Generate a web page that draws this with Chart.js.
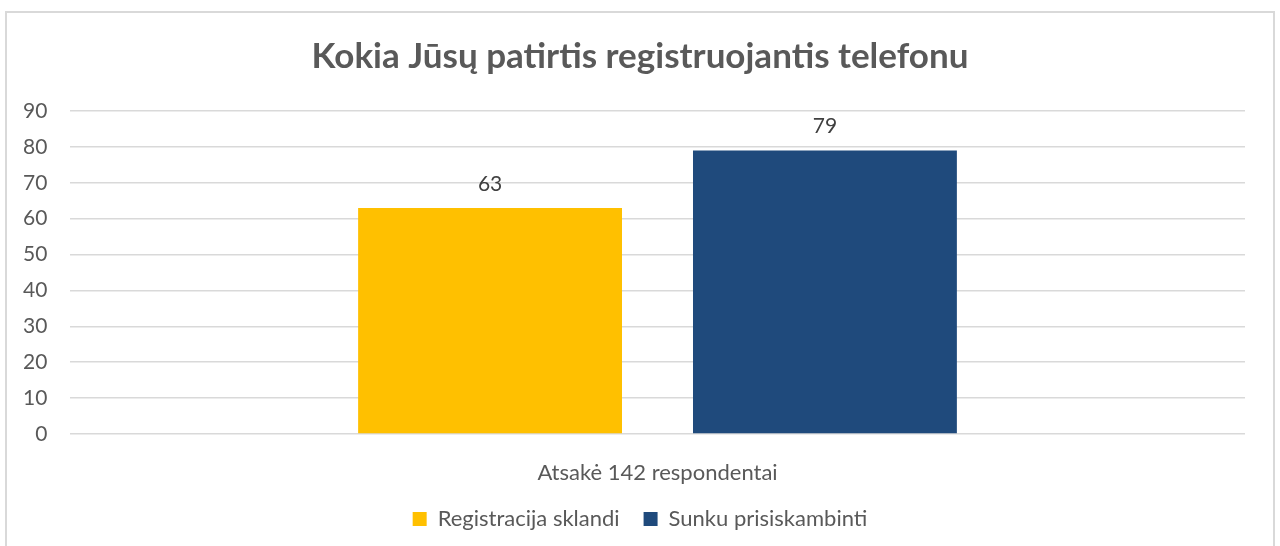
<!DOCTYPE html>
<html lang="lt">
<head>
    <meta charset="UTF-8">
    <title>Kokia Jūsų patirtis registruojantis telefonu</title>
    <script src="https://cdn.jsdelivr.net/npm/chart.js"></script>
    <style>
        html, body {
            margin: 0;
            padding: 0;
            background: #ffffff;
            overflow: hidden;
        }
        #frame {
            position: absolute;
            left: 5px;
            top: 11px;
            width: 1266px;
            height: 600px;
            border: 2px solid #d9d9d9;
        }
        #wrap {
            position: absolute;
            left: 0;
            top: 0;
            width: 1280px;
            height: 540px;
        }
    </style>
</head>
<body>
    <div id="frame"></div>
    <div id="wrap"><canvas id="chart"></canvas></div>

    <script>
        const categories = ['Atsakė 142 respondentai'];
        const seriesNames = ['Registracija sklandi', 'Sunku prisiskambinti'];
        const seriesValues = [[63], [79]];
        const seriesColors = ['#FFC000', '#1F4A7C'];

        const FONT = 'Lato, Calibri, Carlito, sans-serif';
        const GREY = '#595959';

        // value labels above each bar
        const valueLabels = {
            id: 'valueLabels',
            afterDatasetsDraw(chart) {
                const ctx = chart.ctx;
                ctx.save();
                ctx.font = '21px ' + FONT;
                ctx.fillStyle = '#404040';
                ctx.textAlign = 'center';
                ctx.textBaseline = 'middle';
                chart.data.datasets.forEach((ds, i) => {
                    chart.getDatasetMeta(i).data.forEach((bar, j) => {
                        ctx.fillText(ds.data[j], bar.x, bar.y - 24);
                    });
                });
                ctx.restore();
            }
        };

        new Chart(document.getElementById('chart'), {
            type: 'bar',
            data: {
                labels: categories,
                datasets: seriesNames.map((name, i) => ({
                    label: name,
                    data: seriesValues[i],
                    backgroundColor: seriesColors[i],
                    categoryPercentage: 0.57,
                    barPercentage: 0.788
                }))
            },
            options: {
                responsive: true,
                maintainAspectRatio: false,
                animation: false,
                // equal side padding keeps title + legend centred on the page
                layout: { padding: { left: 35, right: 35, top: 0, bottom: 0 } },
                plugins: {
                    title: {
                        display: true,
                        text: 'Kokia Jūsų patirtis registruojantis telefonu',
                        color: GREY,
                        font: { family: FONT, size: 35, weight: 'bold' },
                        padding: { top: 36, bottom: 33 }
                    },
                    legend: {
                        position: 'bottom',
                        labels: {
                            boxWidth: 14,
                            boxHeight: 14,
                            padding: 24,
                            color: GREY,
                            font: { family: FONT, size: 22 }
                        }
                    },
                    tooltip: { enabled: false }
                },
                scales: {
                    x: {
                        grid: { display: false },
                        border: { display: false },
                        ticks: {
                            color: GREY,
                            padding: 18,
                            font: { family: FONT, size: 22 }
                        },
                        afterFit(axis) { axis.height = 50; }
                    },
                    y: {
                        min: 0,
                        max: 90,
                        ticks: {
                            stepSize: 10,
                            color: GREY,
                            // mirrored labels are not clipped to the narrow axis box;
                            // negative padding pulls them back left of the plot
                            mirror: true,
                            crossAlign: 'far',
                            padding: -47,
                            font: { family: FONT, size: 21 }
                        },
                        grid: { color: '#d9d9d9', lineWidth: 1.5, drawTicks: false },
                        border: { display: false },
                        afterFit(axis) { axis.width = 35; }
                    }
                }
            },
            plugins: [valueLabels]
        });
    </script>
</body>
</html>
